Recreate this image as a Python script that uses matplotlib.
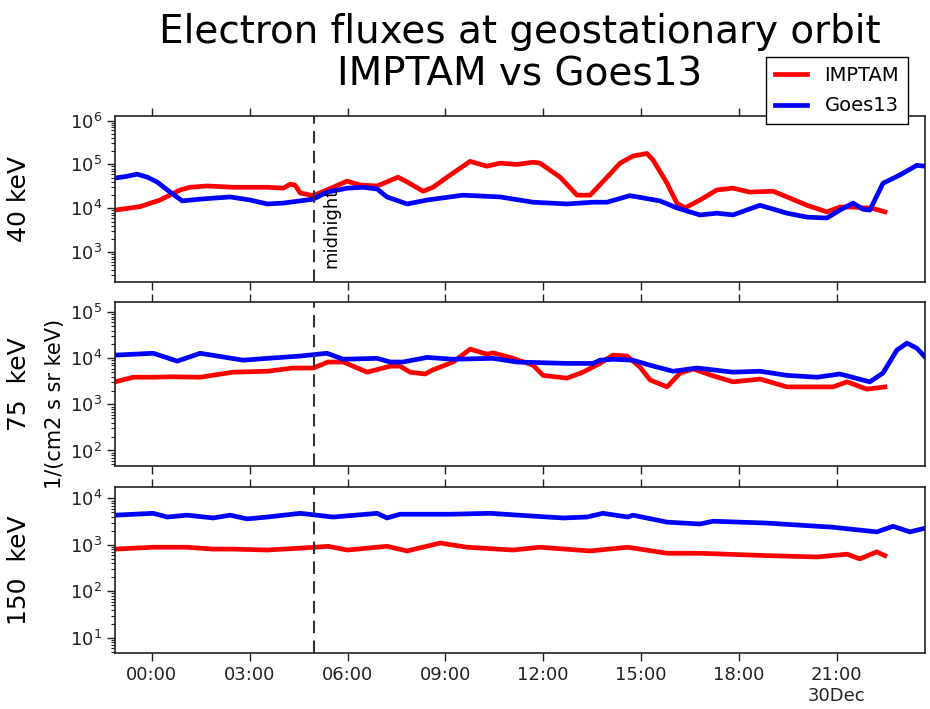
import matplotlib
matplotlib.use('Agg')
import matplotlib.pyplot as plt
import numpy as np

# hours since 00:00 UT, log10 of flux in 1/(cm2 s sr keV)
T_MIN, T_MAX = -1.13, 23.71
MIDNIGHT = 4.97

imptam_40_t = [-1.13, -0.36, 0.25, 0.87, 1.17, 1.70, 2.49, 3.54, 4.03, 4.24, 4.39, 4.55, 4.95,
               5.37, 5.99, 6.39, 6.91, 7.55, 7.83, 8.32, 8.62, 9.15, 9.76, 10.28, 10.68, 11.20,
               11.69, 11.90, 12.52, 13.04, 13.44, 13.96, 14.36, 14.75, 15.18, 15.37, 15.80, 16.10,
               16.35, 16.81, 17.33, 17.82, 18.34, 19.05, 19.48, 20.09, 20.70, 21.10, 21.50, 22.11, 22.48]
imptam_40 = [3.96, 4.04, 4.19, 4.42, 4.48, 4.51, 4.48, 4.48, 4.46, 4.55, 4.53, 4.35, 4.29,
             4.42, 4.62, 4.53, 4.51, 4.71, 4.60, 4.39, 4.48, 4.76, 5.07, 4.96, 5.03, 5.00,
             5.05, 5.03, 4.71, 4.30, 4.30, 4.71, 5.03, 5.19, 5.25, 5.10, 4.57, 4.12,
             4.01, 4.19, 4.42, 4.46, 4.37, 4.39, 4.26, 4.07, 3.92, 4.03, 4.03, 4.00, 3.92]

goes_40_t = [-1.13, -0.76, -0.45, -0.14, 0.16, 0.56, 0.93, 1.48, 2.40, 3.01, 3.54, 4.03, 4.95,
             5.37, 5.99, 6.48, 6.91, 7.21, 7.83, 8.44, 9.54, 10.68, 11.69, 12.73, 13.53, 13.96,
             14.66, 15.58, 16.10, 16.81, 17.33, 17.82, 18.65, 19.48, 20.09, 20.70, 21.10, 21.50,
             21.81, 22.02, 22.42, 22.94, 23.46, 23.71]
goes_40 = [4.69, 4.73, 4.78, 4.71, 4.60, 4.37, 4.17, 4.21, 4.26, 4.19, 4.10, 4.12, 4.21,
           4.37, 4.46, 4.48, 4.44, 4.26, 4.10, 4.19, 4.30, 4.26, 4.14, 4.10, 4.14, 4.14,
           4.29, 4.17, 4.01, 3.85, 3.89, 3.85, 4.07, 3.89, 3.80, 3.78, 3.96, 4.12,
           3.98, 3.96, 4.57, 4.76, 4.98, 4.96]

imptam_75_t = [-1.13, -0.57, 0.04, 0.65, 1.48, 2.49, 3.54, 4.33, 4.95, 5.40, 5.87, 6.60, 7.31,
               7.61, 7.92, 8.38, 8.62, 9.24, 9.76, 10.28, 10.46, 11.08, 11.69, 12.00, 12.73, 13.22,
               13.74, 14.14, 14.57, 14.97, 15.28, 15.80, 16.20, 16.60, 17.21, 17.82, 18.65, 19.48,
               20.89, 21.32, 21.93, 22.48]
imptam_75 = [3.49, 3.59, 3.59, 3.60, 3.59, 3.70, 3.72, 3.79, 3.79, 3.92, 3.92, 3.70, 3.83,
             3.83, 3.70, 3.66, 3.75, 3.92, 4.20, 4.09, 4.12, 4.00, 3.85, 3.63, 3.57, 3.70,
             3.89, 4.07, 4.05, 3.81, 3.53, 3.38, 3.68, 3.77, 3.62, 3.49, 3.55, 3.38,
             3.38, 3.49, 3.33, 3.38]

goes_75_t = [-1.13, 0.04, 0.78, 1.48, 2.80, 3.54, 4.55, 5.37, 5.87, 6.91, 7.31, 7.70, 8.44,
             9.24, 10.46, 11.20, 12.73, 13.53, 13.74, 14.14, 14.75, 15.28, 15.98, 16.72, 17.82,
             18.65, 19.48, 20.40, 21.10, 22.02, 22.42, 22.85, 23.16, 23.46, 23.71]
goes_75 = [4.07, 4.11, 3.94, 4.11, 3.96, 4.00, 4.05, 4.11, 3.98, 4.00, 3.92, 3.92, 4.02,
           3.98, 4.00, 3.92, 3.89, 3.89, 3.96, 3.98, 3.96, 3.85, 3.72, 3.79, 3.70,
           3.72, 3.63, 3.59, 3.66, 3.49, 3.68, 4.18, 4.33, 4.22, 4.03]

imptam_150_t = [-1.13, 0.04, 1.08, 1.88, 2.49, 3.54, 4.55, 5.41, 5.99, 7.21, 7.83, 8.84, 9.67,
                11.08, 11.90, 13.44, 14.60, 15.80, 16.81, 18.86, 20.40, 21.32, 21.71, 22.23, 22.48]
imptam_150 = [2.91, 2.95, 2.95, 2.91, 2.91, 2.89, 2.93, 2.97, 2.89, 2.97, 2.87, 3.04, 2.95,
              2.89, 2.95, 2.87, 2.95, 2.82, 2.82, 2.77, 2.74, 2.80, 2.70, 2.85, 2.77]

goes_150_t = [-1.13, 0.04, 0.47, 1.08, 1.88, 2.40, 2.92, 3.54, 4.55, 5.56, 6.91, 7.21, 7.61,
              9.15, 10.37, 11.69, 12.61, 13.34, 13.83, 14.60, 14.75, 15.80, 16.81, 17.21, 18.86,
              20.89, 22.23, 22.73, 23.25, 23.71]
goes_150 = [3.64, 3.68, 3.60, 3.64, 3.58, 3.64, 3.56, 3.60, 3.68, 3.60, 3.68, 3.58, 3.66,
            3.66, 3.68, 3.62, 3.58, 3.60, 3.68, 3.60, 3.64, 3.49, 3.45, 3.51, 3.47,
            3.38, 3.28, 3.40, 3.28, 3.36]

TICK_HOURS = [0, 3, 6, 9, 12, 15, 18, 21]
TICK_LABELS = ['00:00', '03:00', '06:00', '09:00', '12:00', '15:00', '18:00', '21:00\n30Dec']
TITLE_LINES = ['Electron fluxes at geostationary orbit', 'IMPTAM vs Goes13']

PANELS = [
    # imptam t, imptam, goes t, goes, ylabel, ylim (log10)
    (imptam_40_t, imptam_40, goes_40_t, goes_40, '40 keV', (2.33, 6.11)),
    (imptam_75_t, imptam_75, goes_75_t, goes_75, '75  keV', (1.67, 5.23)),
    (imptam_150_t, imptam_150, goes_150_t, goes_150, '150  keV', (0.68, 4.24)),
]
AX_RECTS = [
    (0.1237, 0.6027, 0.8709, 0.2341),
    (0.1237, 0.3432, 0.8709, 0.2313),
    (0.1237, 0.0794, 0.8709, 0.2333),
]

plt.rcParams['font.family'] = 'DejaVu Sans'
fig = plt.figure(figsize=(9.3, 7.09), dpi=100)

axes = []
for rect, (it, iv, gt, gv, ylabel, ylim) in zip(AX_RECTS, PANELS):
    ax = fig.add_axes(rect)
    ax.plot(it, 10 ** np.array(iv), color='r', lw=3.4, label='IMPTAM')
    ax.plot(gt, 10 ** np.array(gv), color='b', lw=3.4, label='Goes13')
    ax.axvline(MIDNIGHT, color='#333333', lw=1.5, dashes=(6, 3.5))
    ax.set_yscale('log')
    ax.set_ylim(10 ** ylim[0], 10 ** ylim[1])
    ax.set_xlim(T_MIN, T_MAX)
    ax.set_xticks(TICK_HOURS)
    ax.set_xticklabels(TICK_LABELS)
    ax.tick_params(axis='x', which='both', direction='out', top=True, length=6, width=1,
                   labelsize=13, colors='#222222')
    ax.tick_params(axis='y', which='major', direction='out', right=False, length=6, width=1,
                   labelsize=13, colors='#222222')
    ax.tick_params(axis='y', which='minor', direction='out', right=False, length=3, width=0.8,
                   colors='#222222')
    ax.set_ylabel(ylabel, fontsize=18)
    ax.yaxis.set_label_coords(-0.104, 0.5)
    for sp in ax.spines.values():
        sp.set_linewidth(1.2)
        sp.set_color('#222222')
    axes.append(ax)

for ax in axes[:-1]:
    ax.tick_params(axis='x', labelbottom=False)

axes[0].text(MIDNIGHT + 0.25, 0.08, 'midnight', rotation=90, fontsize=13,
             ha='left', va='bottom', transform=axes[0].get_xaxis_transform())

fig.text(0.059, 0.43, '1/(cm2 s sr keV)', rotation=90, fontsize=15, ha='center', va='center')

leg = axes[0].legend(loc='upper right', bbox_to_anchor=(0.979, 1.354), borderaxespad=0,
                     fontsize=14, fancybox=False, framealpha=1, edgecolor='black',
                     handlelength=1.65, handletextpad=0.9, labelspacing=0.6,
                     borderpad=0.45)
leg.get_frame().set_linewidth(1.0)

fig.text(0.559, 0.9394, TITLE_LINES[0], ha='center', va='baseline', fontsize=28)
fig.text(0.559, 0.880, TITLE_LINES[1], ha='center', va='baseline', fontsize=28)

fig.savefig('out.png', dpi=100)
